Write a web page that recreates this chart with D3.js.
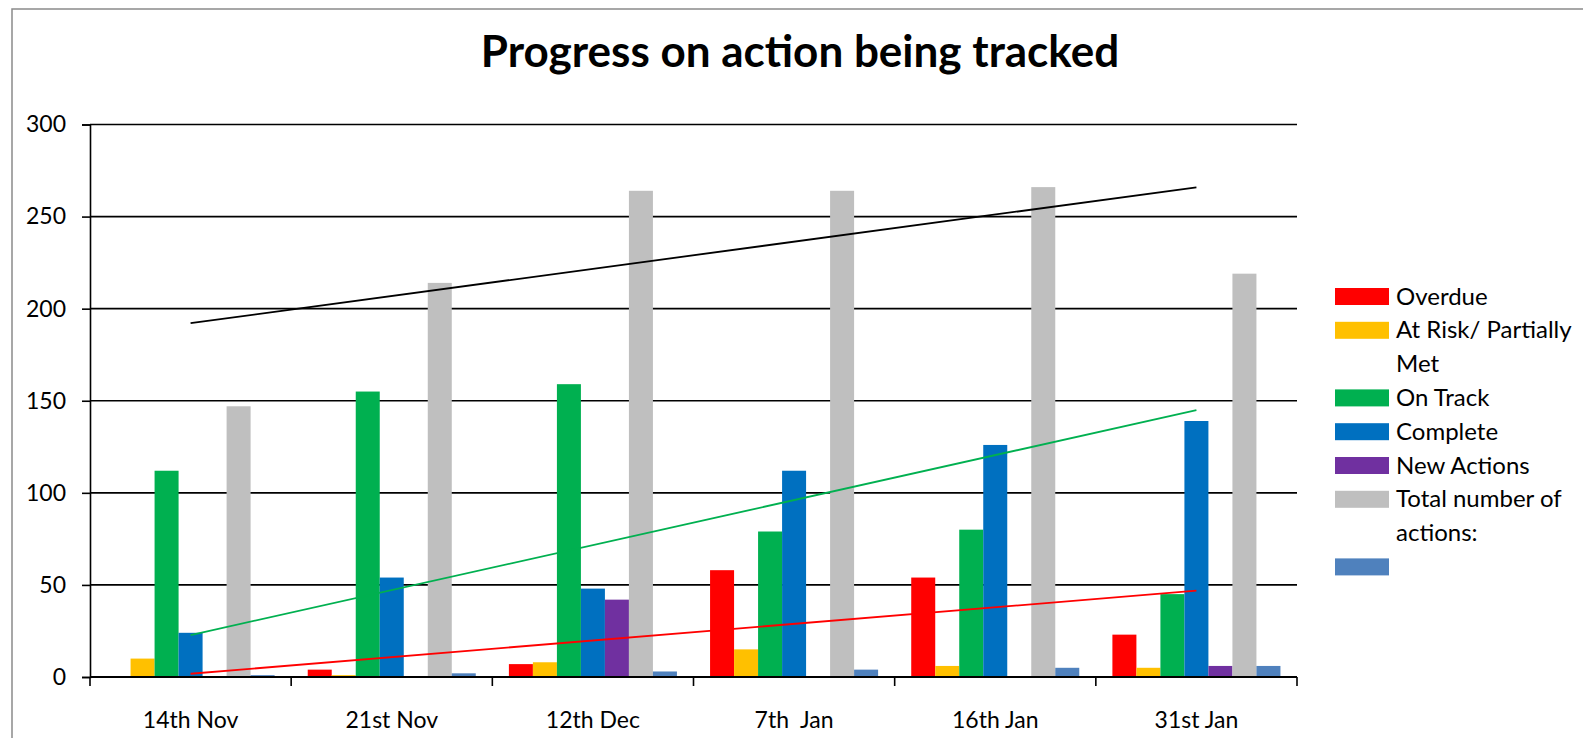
<!DOCTYPE html>
<html>
<head>
<meta charset="utf-8">
<script src="https://cdn.jsdelivr.net/npm/d3@7"></script>
<style>
  body { margin: 0; background: #fff; }
  text { font-family: Lato, "Open Sans", sans-serif; fill: #000; }
</style>
</head>
<body>
<svg class="chart"></svg>
<script>
// categories and series
var categories = ["14th Nov", "21st Nov", "12th Dec", "7th  Jan", "16th Jan", "31st Jan"];
var overdue    = [0, 4, 7, 58, 54, 23];
var atRisk     = [10, 1, 8, 15, 6, 5];
var onTrack    = [112, 155, 159, 79, 80, 45];
var complete   = [24, 54, 48, 112, 126, 139];
var newActions = [0, 0, 42, 0, 0, 6];
var total      = [147, 214, 264, 264, 266, 219];
var unnamed    = [1, 2, 3, 4, 5, 6];
var yTicks     = [0, 50, 100, 150, 200, 250, 300];

function show() {
    'use strict';

    var series = [
        {name: "Overdue", values: overdue, color: "#ff0000", legend: ["Overdue"]},
        {name: "At Risk", values: atRisk, color: "#ffc000", legend: ["At Risk/ Partially", "Met"]},
        {name: "On Track", values: onTrack, color: "#00b050", legend: ["On Track"]},
        {name: "Complete", values: complete, color: "#0070c0", legend: ["Complete"]},
        {name: "New Actions", values: newActions, color: "#7030a0", legend: ["New Actions"]},
        {name: "Total", values: total, color: "#bfbfbf", legend: ["Total number of", "actions:"]},
        {name: "blank", values: unnamed, color: "#4f81bd", legend: [""]}
    ];

    // trendlines: which series they fit and the colour they are drawn in
    var trends = [
        {values: total, color: "#000000"},
        {values: complete, color: "#00b050"},
        {values: overdue, color: "#ff0000"}
    ];

    var W = 1583, H = 738;
    var svg = d3.select(".chart").attr("width", W).attr("height", H);

    // outer chart border
    svg.append("rect")
        .attr("x", 12).attr("y", 9)
        .attr("width", W + 20).attr("height", H + 20)
        .attr("fill", "none").attr("stroke", "#8a8a8a").attr("stroke-width", 1.5);

    svg.append("text")
        .attr("x", 800).attr("y", 67)
        .attr("text-anchor", "middle")
        .attr("font-size", 44).attr("font-weight", "bold")
        .text("Progress on action being tracked");

    var plot = {left: 90, right: 1297, top: 124.5, bottom: 677};

    var x0 = d3.scaleBand().domain(categories).range([plot.left, plot.right]).padding(0);
    var x1 = d3.scaleBand().domain(series.map(function(s) { return s.name; }))
        .range([0, x0.bandwidth()]).paddingInner(0).paddingOuter(0.69);
    var y = d3.scaleLinear().domain([0, 300]).range([plot.bottom, plot.top]);

    // gridlines
    svg.append("g").selectAll("line")
        .data(yTicks.filter(function(t) { return t > 0; }))
        .enter().append("line")
        .attr("x1", plot.left).attr("x2", plot.right)
        .attr("y1", function(d) { return y(d); }).attr("y2", function(d) { return y(d); })
        .attr("stroke", "#000").attr("stroke-width", 1.6);

    // bars
    var groups = svg.append("g").selectAll("g")
        .data(series)
        .enter().append("g")
        .attr("fill", function(s) { return s.color; });

    groups.selectAll("rect")
        .data(function(s) {
            return s.values.map(function(v, i) { return {name: s.name, cat: categories[i], v: v}; });
        })
        .enter().append("rect")
        .attr("x", function(d) { return x0(d.cat) + x1(d.name); })
        .attr("width", x1.bandwidth())
        .attr("y", function(d) { return y(d.v); })
        .attr("height", function(d) { return y(0) - y(d.v); });

    // linear trendlines, fitted like excel does (x = 1..n)
    function fit(vals) {
        var n = vals.length;
        var xs = d3.range(1, n + 1);
        var mx = d3.mean(xs), my = d3.mean(vals);
        var sxy = d3.sum(xs, function(x, i) { return (x - mx) * (vals[i] - my); });
        var sxx = d3.sum(xs, function(x) { return (x - mx) * (x - mx); });
        var b = sxy / sxx, a = my - b * mx;
        return [[categories[0], a + b], [categories[n - 1], a + b * n]];
    }

    var line = d3.line()
        .x(function(d) { return x0(d[0]) + x0.bandwidth() / 2; })
        .y(function(d) { return y(d[1]); });

    svg.append("g").selectAll("path")
        .data(trends)
        .enter().append("path")
        .attr("d", function(t) { return line(fit(t.values)); })
        .attr("fill", "none")
        .attr("stroke", function(t) { return t.color; })
        .attr("stroke-width", 1.8);

    // y axis
    var yAxis = d3.axisLeft(y).tickValues(yTicks).tickSize(8).tickPadding(16);
    var gy = svg.append("g").attr("transform", "translate(" + plot.left + ",0)").call(yAxis);
    gy.select(".domain").attr("stroke", "#000").attr("stroke-width", 1.6);
    gy.selectAll(".tick line").attr("stroke", "#000").attr("stroke-width", 1.6);
    gy.selectAll("text").attr("font-size", 23).attr("font-family", "Lato, sans-serif").attr("fill", "#000");

    // x axis: ticks between categories
    var xBounds = categories.map(function(c) { return x0(c); }).concat([plot.right]);
    svg.append("line")
        .attr("x1", plot.left).attr("x2", plot.right).attr("y1", plot.bottom).attr("y2", plot.bottom)
        .attr("stroke", "#000").attr("stroke-width", 2);
    svg.append("g").selectAll("line")
        .data(xBounds)
        .enter().append("line")
        .attr("x1", function(d) { return d; }).attr("x2", function(d) { return d; })
        .attr("y1", plot.bottom).attr("y2", plot.bottom + 9)
        .attr("stroke", "#000").attr("stroke-width", 1.6);
    svg.append("g").selectAll("text")
        .data(categories)
        .enter().append("text")
        .attr("x", function(c) { return x0(c) + x0.bandwidth() / 2; })
        .attr("y", 728)
        .attr("text-anchor", "middle")
        .attr("font-size", 23)
        .style("white-space", "pre")
        .text(function(c) { return c; });

    // legend
    var legend = svg.append("g").attr("transform", "translate(1335,0)");
    var rowY = 296.5, rowH = 33.8;
    series.forEach(function(s) {
        legend.append("rect")
            .attr("x", 0).attr("y", rowY - 8.5)
            .attr("width", 54).attr("height", 17)
            .attr("fill", s.color);
        s.legend.forEach(function(t, k) {
            legend.append("text")
                .attr("x", 61).attr("y", rowY + k * rowH + 8)
                .attr("font-size", 24)
                .text(t);
        });
        rowY += s.legend.length * rowH;
    });
}

show();
</script>
</body>
</html>
